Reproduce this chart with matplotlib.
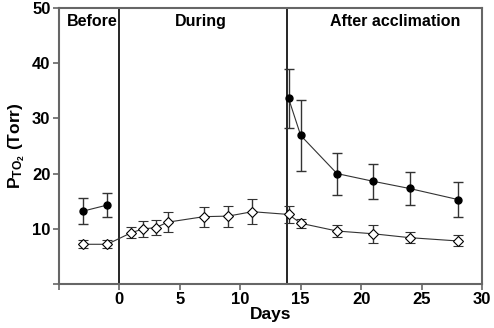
import matplotlib
matplotlib.use("Agg")
import matplotlib.pyplot as plt
import numpy as np

plt.rcParams['font.family'] = ['Liberation Sans', 'DejaVu Sans']
plt.rcParams['font.weight'] = 'bold'
plt.rcParams['mathtext.fontset'] = 'custom'
plt.rcParams['mathtext.rm'] = 'Liberation Sans:bold'
plt.rcParams['mathtext.bf'] = 'Liberation Sans:bold'
plt.rcParams['mathtext.it'] = 'Liberation Sans:bold'

# Filled series (two segments)
filled_before_days = [-3, -1]
filled_before_vals = [13.2, 14.3]
filled_before_err = [2.3, 2.2]
filled_after_days = [14, 15, 18, 21, 24, 28]
filled_after_vals = [33.6, 26.9, 20.0, 18.6, 17.3, 15.3]
filled_after_err = [5.3, 6.4, 3.8, 3.2, 2.9, 3.2]

# Open series
open_days = [-3, -1, 1, 2, 3, 4, 7, 9, 11, 14, 15, 18, 21, 24, 28]
open_vals = [7.2, 7.2, 9.3, 10.0, 10.2, 11.2, 12.2, 12.3, 13.1, 12.6, 11.0, 9.6, 9.1, 8.4, 7.8]
open_err = [0.75, 0.75, 1.0, 1.4, 1.4, 1.8, 1.8, 1.9, 2.3, 1.5, 0.8, 1.1, 1.6, 1.0, 1.0]

phase_lines = [0, 13.9]
phase_labels = ["Before", "During", "After acclimation"]
phase_label_x = [-2.25, 6.75, 22.8]

fig = plt.figure(figsize=(4.94, 3.28), dpi=100)
ax = fig.add_axes([0.119, 0.134, 0.857, 0.842])

line_col = '#333333'
ax.errorbar(open_days, open_vals, yerr=open_err, fmt='D', ms=5, mfc='white', mec='black',
            mew=0.8, color=line_col, ecolor='#333333', elinewidth=1.0, capsize=3.5, capthick=1.0,
            ls='-', lw=0.8, zorder=3)
for d, v, e in [(filled_before_days, filled_before_vals, filled_before_err),
                (filled_after_days, filled_after_vals, filled_after_err)]:
    ax.errorbar(d, v, yerr=e, fmt='o', ms=5, mfc='black', mec='black', color=line_col,
                ecolor='#333333', elinewidth=1.0, capsize=3.5, capthick=1.0, ls='-', lw=0.8, zorder=4)

for x in phase_lines:
    ax.axvline(x, color='black', lw=1.2, zorder=2)

for lbl, x in zip(phase_labels, phase_label_x):
    ax.text(x, 47.6, lbl, ha='center', va='center', fontsize=11.5, fontweight='bold')

ax.set_xlim(-5, 30)
ax.set_ylim(0, 50)
ax.set_xticks([-5, 0, 5, 10, 15, 20, 25, 30])
ax.set_xticklabels(['', '0', '5', '10', '15', '20', '25', '30'])
ax.set_yticks([0, 10, 20, 30, 40, 50])
ax.set_yticklabels(['', '10', '20', '30', '40', '50'])
ax.tick_params(axis='both', labelsize=12, length=4, width=1.2, color='#666666', pad=2)
for s in ax.spines.values():
    s.set_color('#666666')
    s.set_linewidth(1.5)

ax.set_xlabel('Days', fontsize=12.5, fontweight='bold', labelpad=0)
ax.set_ylabel(r'$\mathrm{P_{TO_2}}$ (Torr)', fontsize=12.5, fontweight='bold', labelpad=4)

fig.savefig('out.png', dpi=100)
